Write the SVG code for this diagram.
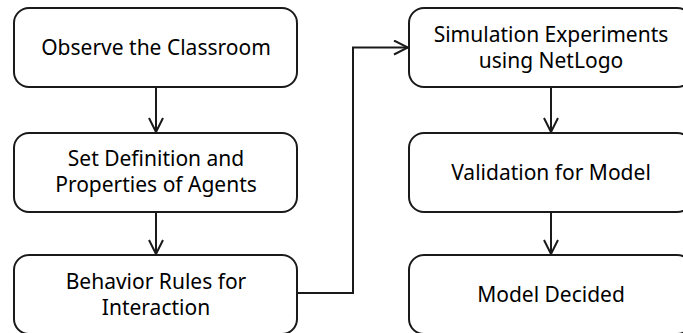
<svg xmlns="http://www.w3.org/2000/svg" width="683" height="333" viewBox="0 0 683 333">
<defs>
<style>
.box{fill:#fff;stroke:#1a1a1a;stroke-width:2}
.t{font-family:"Noto Sans","Open Sans",sans-serif;font-size:21px;fill:#000;text-anchor:middle}
.c{fill:none;stroke:#1a1a1a;stroke-width:2}
</style>
<marker id="ah" viewBox="0 0 16 16" markerWidth="16" markerHeight="16" refX="15" refY="8" orient="auto" markerUnits="userSpaceOnUse">
<path d="M1,1 L15,8 L1,15" fill="none" stroke="#1a1a1a" stroke-width="2"/>
</marker>
</defs>
<rect width="683" height="333" fill="#fff"/>
<g id="connectors">
<line class="c" x1="156" y1="87" x2="156" y2="132" marker-end="url(#ah)"/>
<line class="c" x1="156" y1="212" x2="156" y2="254" marker-end="url(#ah)"/>
<polyline class="c" points="297,293 353,293 353,47.5 408,47.5" marker-end="url(#ah)"/>
<line class="c" x1="551" y1="87" x2="551" y2="132" marker-end="url(#ah)"/>
<line class="c" x1="551" y1="212" x2="551" y2="254" marker-end="url(#ah)"/>
</g>
<g id="n1"><rect class="box" x="14" y="8" width="283" height="79" rx="15"/><text class="t" x="156" y="55">Observe the Classroom</text></g>
<g id="n2"><rect class="box" x="14" y="133" width="283" height="79" rx="15"/><text class="t" x="156" y="166">Set Definition and</text><text class="t" x="156" y="192">Properties of Agents</text></g>
<g id="n3"><rect class="box" x="14" y="255" width="283" height="79" rx="15"/><text class="t" x="156" y="289">Behavior Rules for</text><text class="t" x="156" y="315">Interaction</text></g>
<g id="n4"><rect class="box" x="409" y="8" width="283" height="79" rx="15"/><text class="t" x="551" y="42">Simulation Experiments</text><text class="t" x="551" y="68">using NetLogo</text></g>
<g id="n5"><rect class="box" x="409" y="133" width="283" height="79" rx="15"/><text class="t" x="551" y="180">Validation for Model</text></g>
<g id="n6"><rect class="box" x="409" y="255" width="283" height="79" rx="15"/><text class="t" x="551" y="302">Model Decided</text></g>
</svg>
